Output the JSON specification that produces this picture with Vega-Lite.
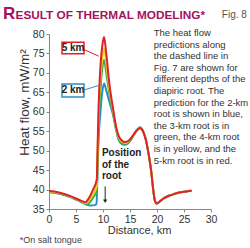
{
  "$schema": "https://vega.github.io/schema/vega-lite/v6.json",
  "width": 162,
  "height": 175,
  "autosize": {"type": "none"},
  "padding": {"left": 49, "top": 34, "right": 39, "bottom": 39},
  "background": "white",
  "config": {
    "view": {"stroke": null},
    "font": "Liberation Sans",
    "axis": {
      "grid": false,
      "domainColor": "#888888",
      "tickColor": "#888888",
      "tickSize": 3,
      "labelColor": "#333333",
      "titleColor": "#333333",
      "labelFont": "Liberation Sans",
      "titleFont": "Liberation Sans",
      "labelFontSize": 10.5,
      "titleFontSize": 11,
      "titleFontWeight": "normal",
      "labelOverlap": false,
      "labelFlush": false,
      "labelBound": false
    }
  },
  "datasets": {
    "curves": [
      {"series": "2 km", "x": 0, "y": 39.3}, {"series": "2 km", "x": 1, "y": 39.2}, {"series": "2 km", "x": 2, "y": 38.9}, {"series": "2 km", "x": 3, "y": 38.5}, {"series": "2 km", "x": 4, "y": 38.0}, {"series": "2 km", "x": 5, "y": 37.4}, {"series": "2 km", "x": 6, "y": 36.8}, {"series": "2 km", "x": 7, "y": 36.1}, {"series": "2 km", "x": 7.8, "y": 35.9}, {"series": "2 km", "x": 8.5, "y": 36.0}, {"series": "2 km", "x": 8.8, "y": 36.3}, {"series": "2 km", "x": 8.95, "y": 43}, {"series": "2 km", "x": 9.15, "y": 52}, {"series": "2 km", "x": 9.5, "y": 59.5}, {"series": "2 km", "x": 9.9, "y": 65.5}, {"series": "2 km", "x": 10.2, "y": 67.3}, {"series": "2 km", "x": 10.6, "y": 65.5}, {"series": "2 km", "x": 11.2, "y": 62.5}, {"series": "2 km", "x": 11.9, "y": 59}, {"series": "2 km", "x": 12.4, "y": 55.5}, {"series": "2 km", "x": 12.9, "y": 52.8}, {"series": "2 km", "x": 13.5, "y": 51.7}, {"series": "2 km", "x": 14.1, "y": 51.5}, {"series": "2 km", "x": 14.8, "y": 52.1}, {"series": "2 km", "x": 15.6, "y": 53.7}, {"series": "2 km", "x": 16.3, "y": 55.2}, {"series": "2 km", "x": 16.85, "y": 55.8}, {"series": "2 km", "x": 17.4, "y": 55.0}, {"series": "2 km", "x": 17.9, "y": 53.0}, {"series": "2 km", "x": 18.4, "y": 49.5}, {"series": "2 km", "x": 18.9, "y": 45}, {"series": "2 km", "x": 19.3, "y": 40}, {"series": "2 km", "x": 19.6, "y": 37.2}, {"series": "2 km", "x": 19.95, "y": 36.4}, {"series": "2 km", "x": 20.4, "y": 36.8}, {"series": "2 km", "x": 21.2, "y": 37.7}, {"series": "2 km", "x": 22.2, "y": 38.4}, {"series": "2 km", "x": 23.3, "y": 38.9}, {"series": "2 km", "x": 24.4, "y": 39.3}, {"series": "2 km", "x": 25.4, "y": 39.5}, {"series": "2 km", "x": 26.4, "y": 39.7},

      {"series": "3 km", "x": 0, "y": 39.4}, {"series": "3 km", "x": 1, "y": 39.3}, {"series": "3 km", "x": 2, "y": 39.0}, {"series": "3 km", "x": 3, "y": 38.6}, {"series": "3 km", "x": 4, "y": 38.1}, {"series": "3 km", "x": 5, "y": 37.5}, {"series": "3 km", "x": 6, "y": 36.9}, {"series": "3 km", "x": 6.9, "y": 36.2}, {"series": "3 km", "x": 7.6, "y": 36.8}, {"series": "3 km", "x": 8.3, "y": 38.2}, {"series": "3 km", "x": 8.85, "y": 39.6}, {"series": "3 km", "x": 9.0, "y": 47}, {"series": "3 km", "x": 9.2, "y": 57}, {"series": "3 km", "x": 9.5, "y": 65}, {"series": "3 km", "x": 9.9, "y": 71.5}, {"series": "3 km", "x": 10.2, "y": 73.3}, {"series": "3 km", "x": 10.6, "y": 70}, {"series": "3 km", "x": 11.2, "y": 64.5}, {"series": "3 km", "x": 11.9, "y": 59.5}, {"series": "3 km", "x": 12.4, "y": 55.7}, {"series": "3 km", "x": 12.9, "y": 53.0}, {"series": "3 km", "x": 13.5, "y": 51.9}, {"series": "3 km", "x": 14.1, "y": 51.7}, {"series": "3 km", "x": 14.8, "y": 52.3}, {"series": "3 km", "x": 15.6, "y": 53.9}, {"series": "3 km", "x": 16.3, "y": 55.4}, {"series": "3 km", "x": 16.85, "y": 56.0}, {"series": "3 km", "x": 17.4, "y": 55.1}, {"series": "3 km", "x": 17.9, "y": 53.0}, {"series": "3 km", "x": 18.4, "y": 49.5}, {"series": "3 km", "x": 18.9, "y": 45}, {"series": "3 km", "x": 19.3, "y": 40}, {"series": "3 km", "x": 19.6, "y": 37.2}, {"series": "3 km", "x": 19.95, "y": 36.4}, {"series": "3 km", "x": 20.4, "y": 36.8}, {"series": "3 km", "x": 21.2, "y": 37.7}, {"series": "3 km", "x": 22.2, "y": 38.4}, {"series": "3 km", "x": 23.3, "y": 38.9}, {"series": "3 km", "x": 24.4, "y": 39.3}, {"series": "3 km", "x": 25.4, "y": 39.5}, {"series": "3 km", "x": 26.4, "y": 39.7},

      {"series": "4 km", "x": 0, "y": 39.5}, {"series": "4 km", "x": 1, "y": 39.4}, {"series": "4 km", "x": 2, "y": 39.1}, {"series": "4 km", "x": 3, "y": 38.7}, {"series": "4 km", "x": 4, "y": 38.2}, {"series": "4 km", "x": 5, "y": 37.6}, {"series": "4 km", "x": 6, "y": 37.0}, {"series": "4 km", "x": 6.8, "y": 36.5}, {"series": "4 km", "x": 7.4, "y": 37.2}, {"series": "4 km", "x": 8.2, "y": 38.9}, {"series": "4 km", "x": 8.85, "y": 41}, {"series": "4 km", "x": 9.0, "y": 49}, {"series": "4 km", "x": 9.2, "y": 60}, {"series": "4 km", "x": 9.5, "y": 68}, {"series": "4 km", "x": 9.9, "y": 74.3}, {"series": "4 km", "x": 10.2, "y": 76.2}, {"series": "4 km", "x": 10.6, "y": 72.5}, {"series": "4 km", "x": 11.2, "y": 65.7}, {"series": "4 km", "x": 11.9, "y": 60}, {"series": "4 km", "x": 12.4, "y": 56.0}, {"series": "4 km", "x": 12.9, "y": 53.4}, {"series": "4 km", "x": 13.5, "y": 52.3}, {"series": "4 km", "x": 14.1, "y": 52.0}, {"series": "4 km", "x": 14.8, "y": 52.5}, {"series": "4 km", "x": 15.6, "y": 54.0}, {"series": "4 km", "x": 16.3, "y": 55.3}, {"series": "4 km", "x": 16.85, "y": 55.8}, {"series": "4 km", "x": 17.4, "y": 55.0}, {"series": "4 km", "x": 17.9, "y": 53.0}, {"series": "4 km", "x": 18.4, "y": 49.5}, {"series": "4 km", "x": 18.9, "y": 45}, {"series": "4 km", "x": 19.3, "y": 40}, {"series": "4 km", "x": 19.6, "y": 37.2}, {"series": "4 km", "x": 19.95, "y": 36.4}, {"series": "4 km", "x": 20.4, "y": 36.8}, {"series": "4 km", "x": 21.2, "y": 37.7}, {"series": "4 km", "x": 22.2, "y": 38.4}, {"series": "4 km", "x": 23.3, "y": 38.9}, {"series": "4 km", "x": 24.4, "y": 39.3}, {"series": "4 km", "x": 25.4, "y": 39.5}, {"series": "4 km", "x": 26.4, "y": 39.7},

      {"series": "5 km", "x": 0, "y": 39.6}, {"series": "5 km", "x": 1, "y": 39.5}, {"series": "5 km", "x": 2, "y": 39.2}, {"series": "5 km", "x": 3, "y": 38.8}, {"series": "5 km", "x": 4, "y": 38.3}, {"series": "5 km", "x": 5, "y": 37.7}, {"series": "5 km", "x": 6, "y": 37.1}, {"series": "5 km", "x": 6.7, "y": 36.7}, {"series": "5 km", "x": 7.3, "y": 37.6}, {"series": "5 km", "x": 8.1, "y": 39.8}, {"series": "5 km", "x": 8.85, "y": 42.6}, {"series": "5 km", "x": 9.0, "y": 51}, {"series": "5 km", "x": 9.2, "y": 62}, {"series": "5 km", "x": 9.5, "y": 71}, {"series": "5 km", "x": 9.9, "y": 77.3}, {"series": "5 km", "x": 10.2, "y": 79.2}, {"series": "5 km", "x": 10.6, "y": 75}, {"series": "5 km", "x": 11.2, "y": 67}, {"series": "5 km", "x": 11.9, "y": 60.5}, {"series": "5 km", "x": 12.4, "y": 56.3}, {"series": "5 km", "x": 12.9, "y": 53.8}, {"series": "5 km", "x": 13.5, "y": 52.6}, {"series": "5 km", "x": 14.1, "y": 52.2}, {"series": "5 km", "x": 14.8, "y": 52.6}, {"series": "5 km", "x": 15.6, "y": 54.0}, {"series": "5 km", "x": 16.3, "y": 55.3}, {"series": "5 km", "x": 16.85, "y": 55.8}, {"series": "5 km", "x": 17.4, "y": 55.0}, {"series": "5 km", "x": 17.9, "y": 53.0}, {"series": "5 km", "x": 18.4, "y": 49.5}, {"series": "5 km", "x": 18.9, "y": 45}, {"series": "5 km", "x": 19.3, "y": 40}, {"series": "5 km", "x": 19.6, "y": 37.2}, {"series": "5 km", "x": 19.95, "y": 36.4}, {"series": "5 km", "x": 20.4, "y": 36.8}, {"series": "5 km", "x": 21.2, "y": 37.7}, {"series": "5 km", "x": 22.2, "y": 38.4}, {"series": "5 km", "x": 23.3, "y": 38.9}, {"series": "5 km", "x": 24.4, "y": 39.3}, {"series": "5 km", "x": 25.4, "y": 39.5}, {"series": "5 km", "x": 26.4, "y": 39.7}
    ],
    "one": [{"n": 1}]
  },
  "layer": [
    {
      "data": {"name": "curves"},
      "mark": {"type": "line", "strokeWidth": 2, "interpolate": "monotone"},
      "encoding": {
        "x": {"field": "x", "type": "quantitative", "scale": {"domain": [0, 30], "nice": false}, "axis": {"tickCount": 6, "title": "Distance, km", "titleX": 90, "titleY": 21, "titleBaseline": "middle", "titleAlign": "center", "labelPadding": 2}},
        "y": {"field": "y", "type": "quantitative", "scale": {"domain": [35, 80], "nice": false, "zero": false}, "axis": {"tickCount": 9, "title": "Heat flow, mW/m²", "titleFontSize": 13.5, "titleX": -25, "titleY": 68, "titleAngle": -90, "titleBaseline": "middle", "titleAlign": "center", "labelPadding": 2}},
        "color": {"field": "series", "type": "nominal", "scale": {"domain": ["2 km", "3 km", "4 km", "5 km"], "range": ["#2a8fc4", "#3aaa4a", "#f2d21b", "#e0202a"]}, "legend": null}
      }
    },
    {
      "data": {"name": "one"},
      "mark": {"type": "rule", "color": "#e0202a", "strokeWidth": 1},
      "encoding": {"x": {"datum": 6.48}, "y": {"datum": 76.0}, "x2": {"datum": 9.2}, "y2": {"datum": 74.3}}
    },
    {
      "data": {"name": "one"},
      "mark": {"type": "rule", "color": "#2a8fc4", "strokeWidth": 1},
      "encoding": {"x": {"datum": 6.48}, "y": {"datum": 65.6}, "x2": {"datum": 9.75}, "y2": {"datum": 67.0}}
    },
    {
      "data": {"name": "one"},
      "mark": {"type": "rect", "fill": "white", "stroke": "#e0202a", "strokeWidth": 1.5},
      "encoding": {"x": {"datum": 2.41}, "x2": {"datum": 6.48}, "y": {"datum": 77.9}, "y2": {"datum": 74.9}}
    },
    {
      "data": {"name": "one"},
      "mark": {"type": "rect", "fill": "white", "stroke": "#2a8fc4", "strokeWidth": 1.5},
      "encoding": {"x": {"datum": 2.41}, "x2": {"datum": 6.48}, "y": {"datum": 67.15}, "y2": {"datum": 63.8}}
    },
    {
      "data": {"name": "one"},
      "mark": {"type": "text", "text": "5 km", "fontWeight": "bold", "fontSize": 10, "color": "#222222", "align": "center", "baseline": "middle"},
      "encoding": {"x": {"datum": 4.45}, "y": {"datum": 76.4}}
    },
    {
      "data": {"name": "one"},
      "mark": {"type": "text", "text": "2 km", "fontWeight": "bold", "fontSize": 10, "color": "#222222", "align": "center", "baseline": "middle"},
      "encoding": {"x": {"datum": 4.45}, "y": {"datum": 65.5}}
    },
    {
      "data": {"name": "one"},
      "mark": {"type": "text", "text": ["Position", "of the", "root"], "fontWeight": "bold", "fontSize": 10, "lineHeight": 11.7, "color": "#222222", "align": "left", "baseline": "middle"},
      "encoding": {"x": {"datum": 9.8}, "y": {"datum": 49.4}}
    },
    {
      "data": {"name": "one"},
      "mark": {"type": "rule", "color": "#222222", "strokeWidth": 1},
      "encoding": {"x": {"datum": 10.4}, "y": {"datum": 40.8}, "x2": {"datum": 10.4}, "y2": {"datum": 37.0}}
    },
    {
      "data": {"name": "one"},
      "mark": {"type": "point", "shape": "triangle-down", "filled": true, "color": "#222222", "size": 18, "opacity": 1},
      "encoding": {"x": {"datum": 10.4}, "y": {"datum": 37.0}}
    },
    {
      "data": {"name": "one"},
      "mark": {"type": "text", "text": ["The heat flow", "predictions along", "the dashed line in", "Fig. 7 are shown for", "different depths of the", "diapiric root.  The", "prediction for the 2-km", "root is shown in blue,", "the 3-km root is in", "green, the 4-km root", "is in yellow, and the", "5-km root is in red."], "fontSize": 9.5, "fontWeight": "normal", "lineHeight": 11.6, "color": "#333333", "align": "left", "baseline": "middle"},
      "encoding": {"x": {"datum": 19.4}, "y": {"datum": 80.25}}
    },
    {
      "data": {"name": "one"},
      "mark": {"type": "text", "text": "R", "fontWeight": "bold", "fontSize": 17, "color": "#a3125e", "align": "left", "baseline": "alphabetic"},
      "encoding": {"x": {"datum": -8.5}, "y": {"datum": 83.86}}
    },
    {
      "data": {"name": "one"},
      "mark": {"type": "text", "text": "ESULT OF THERMAL MODELING*", "fontWeight": "bold", "fontSize": 11.8, "color": "#a3125e", "align": "left", "baseline": "alphabetic"},
      "encoding": {"x": {"datum": -6.2}, "y": {"datum": 83.86}}
    },
    {
      "data": {"name": "one"},
      "mark": {"type": "text", "text": "Fig. 8", "fontSize": 10, "fontWeight": "normal", "color": "#555555", "align": "left", "baseline": "alphabetic"},
      "encoding": {"x": {"datum": 32.0}, "y": {"datum": 84.1}}
    },
    {
      "data": {"name": "one"},
      "mark": {"type": "text", "text": "*On salt tongue", "fontSize": 9, "fontWeight": "normal", "color": "#444444", "align": "left", "baseline": "middle"},
      "encoding": {"x": {"datum": -5.4}, "y": {"datum": 27.0}}
    }
  ]
}
